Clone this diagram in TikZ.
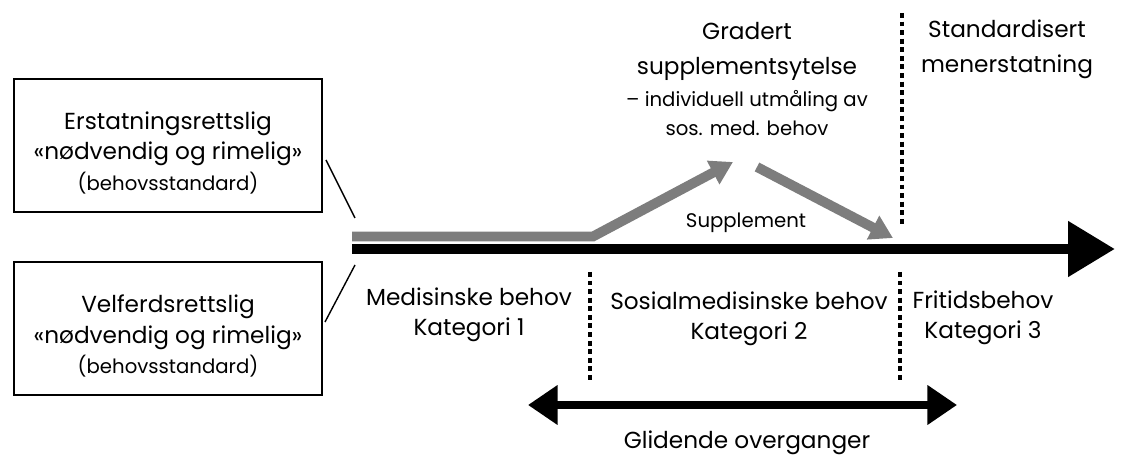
\documentclass[tikz,border=0pt]{standalone}
\usepackage{fontspec}
\setmainfont{Poppins}
\usepackage{tikz}
\usetikzlibrary{arrows.meta}
\definecolor{screengray}{RGB}{125,125,125}
\newcommand{\bigtext}{\fontsize{16.5}{21.5}\selectfont}
\newcommand{\headtext}{\fontsize{16.5}{25}\selectfont}
\newcommand{\smalltext}{\fontsize{14}{21}\selectfont}

\begin{document}
\begin{tikzpicture}[x=0.025cm, y=-0.025cm,
    normbox/.style={draw, line width=1pt, minimum width=7.7cm, minimum height=3.33cm, inner sep=0pt},
    needlabel/.style={align=center, font=\bigtext, inner sep=0pt},
    divider/.style={line width=2.2pt, dash pattern=on 3.5pt off 2.6pt},
    timeline/.style={line width=7.8pt, -{Triangle[length=33.4pt, width=37.7pt]}},
    supplarrow/.style={draw=screengray, line width=7pt, -{Triangle[length=16pt, width=18pt]}},
    glideline/.style={line width=5pt, {Triangle[length=21pt, width=27pt]}-{Triangle[length=21pt, width=27pt]}}
]
    \useasboundingbox (0,0) rectangle (1121,459);

    % the two standards, left
    \node[normbox] (erstat) at (168,145.5) {};
    \node[needlabel] (erstattext) at (168,153) {Erstatningsrettslig\\«nødvendig og rimelig»\\{\smalltext (behovsstandard)}};
    \node[normbox] (velferd) at (168,328.5) {};
    \node[needlabel] (velferdtext) at (168,336) {Velferdsrettslig\\«nødvendig og rimelig»\\{\smalltext (behovsstandard)}};

    \coordinate (erstatlink) at (326,160);
    \coordinate (velferdlink) at (325,322);
    \coordinate (axisstart) at (352,249);
    \draw[line width=1pt] (erstatlink) -- (355,218);
    \draw[line width=1pt] (velferdlink) -- (355,265);

    % main axis
    \coordinate (axisend) at (1115,249);
    \draw[timeline] (axisstart) -- (axisend);

    % supplement
    \coordinate (bandstart) at (352,236.5);
    \coordinate (bandbend) at (593,236.5);
    \coordinate (suppltop) at (733,162);
    \coordinate (supplback) at (757,167);
    \coordinate (supplend) at (893,238);
    \draw[supplarrow, line join=miter] (bandstart) -- (bandbend) -- (suppltop);
    \draw[supplarrow] (supplback) -- (supplend);
    \node[font=\smalltext, inner sep=0pt] (supplement) at (746,223) {Supplement};

    \node[align=center, font=\headtext, inner sep=0pt] (gradert) at (747,51.5) {Gradert\\supplementsytelse};
    \node[align=center, font=\smalltext, inner sep=0pt] (gradertsub) at (747,113) {– individuell utmåling av\\sos. med. behov};
    \node[align=center, font=\headtext, inner sep=0pt] (standard) at (1007,49) {Standardisert\\menerstatning};

    % categories
    \draw[divider] (902,13) -- (902,227);
    \draw[divider] (590,272) -- (590,380);
    \draw[divider] (900,272) -- (900,380);
    \node[needlabel] (kat1) at (469,315) {Medisinske behov\\Kategori 1};
    \node[needlabel] (kat2) at (749,319) {Sosialmedisinske behov\\Kategori 2};
    \node[needlabel] (kat3) at (983,318) {Fritidsbehov\\Kategori 3};

    % glidende overganger
    \coordinate (glidestart) at (528,405);
    \coordinate (glideend) at (957,405);
    \draw[glideline] (glidestart) -- (glideend);
    \node[needlabel] (glide) at (747,443) {Glidende overganger};
\end{tikzpicture}
\end{document}
